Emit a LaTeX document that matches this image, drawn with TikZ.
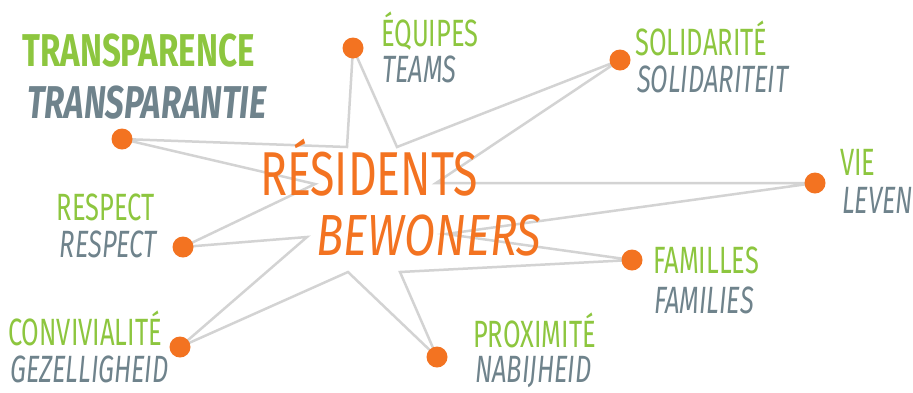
\documentclass[tikz,border=0pt]{standalone}
\usepackage{fontspec}
\setmainfont{Fira Sans}[FakeStretch=0.67]
\newfontfamily\bigfont{Fira Sans}[FakeStretch=0.72]
\newfontfamily\bigitfont{Fira Sans}[FakeStretch=0.78]
\usetikzlibrary{backgrounds}
\definecolor{leafgreen}{HTML}{8DC63F}
\definecolor{slategray}{HTML}{6F838C}
\definecolor{pumpkin}{HTML}{F37321}
\definecolor{lightline}{HTML}{D3D3D3}

\begin{document}
\begin{tikzpicture}[x=1pt,y=-1pt,dot/.style={shape=circle,fill=pumpkin,inner sep=0pt,minimum size=21pt},word/.style={inner sep=0pt,anchor=base west},fr/.style={word,text=leafgreen,font=\fontsize{38}{38}\selectfont},nl/.style={word,text=slategray,font=\fontsize{38}{38}\selectfont\itshape},link/.style={draw=lightline,line width=2.5pt,line join=miter}]
\useasboundingbox (0,0) rectangle (913,392);

% values on the star
\node[dot] (tra) at (122,139) {};
\node[dot] (equ) at (353,48) {};
\node[dot] (sol) at (620,60) {};
\node[dot] (vie) at (815,183) {};
\node[dot] (fam) at (632,260) {};
\node[dot] (pro) at (437,357) {};
\node[dot] (con) at (180,347) {};
\node[dot] (res) at (183,247) {};

% inner corners
\coordinate (k1) at (347,147);
\coordinate (k2) at (397,147);
\coordinate (k3) at (436,183);
\coordinate (k4) at (446,234);
\coordinate (k5) at (400,272);
\coordinate (k6) at (348,272);
\coordinate (k7) at (307,237);
\coordinate (k8) at (315,184);

\begin{scope}[on background layer]
\draw[link] (tra.center) -- (k1) -- (equ.center) -- (k2) -- (sol.center) -- (k3) -- (vie.center) -- (k4) -- (fam.center) -- (k5) -- (pro.center) -- (k6) -- (con.center) -- (k7) -- (res.center) -- (k8) -- cycle;
\end{scope}

\node[fr,font=\fontsize{46}{46}\bigfont\bfseries] (traF) at (22,66) {TRANSPARENCE};
\node[nl,font=\fontsize{46}{46}\bigfont\bfseries\itshape] (traN) at (27,118) {TRANSPARANTIE};
\node[fr] (equF) at (381,46) {ÉQUIPES};
\node[nl] (equN) at (382,82) {TEAMS};
\node[fr] (solF) at (635,55) {SOLIDARITÉ};
\node[nl] (solN) at (637,92) {SOLIDARITEIT};
\node[fr] (vieF) at (840,175) {VIE};
\node[nl] (vieN) at (842,213) {LEVEN};
\node[fr] (famF) at (653,273) {FAMILLES};
\node[nl] (famN) at (654,313) {FAMILIES};
\node[fr] (proF) at (473,347) {PROXIMITÉ};
\node[nl] (proN) at (475,382) {NABIJHEID};
\node[fr] (conF) at (8,345) {CONVIVIALITÉ};
\node[nl] (conN) at (10,382) {GEZELLIGHEID};
\node[fr,anchor=base east] (resF) at (155,220) {RESPECT};
\node[nl,anchor=base east] (resN) at (157,257) {RESPECT};

\node[word,text=pumpkin,font=\fontsize{62}{62}\bigfont] (mainF) at (260,195) {RÉSIDENTS};
\node[word,text=pumpkin,font=\fontsize{58}{58}\bigitfont\itshape] (mainN) at (316,255) {BEWONERS};
\end{tikzpicture}
\end{document}
